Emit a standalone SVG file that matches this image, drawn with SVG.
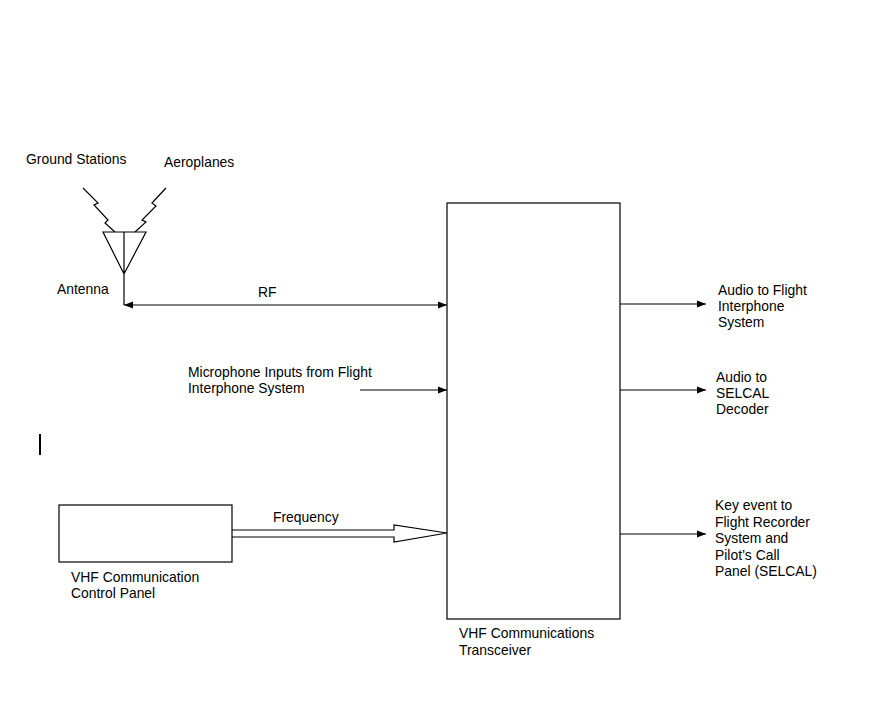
<svg xmlns="http://www.w3.org/2000/svg" width="892" height="703" viewBox="0 0 892 703">
<defs>
<style>
text{font-family:"Liberation Sans",Arial,sans-serif;font-size:13.9px;fill:#000}
.l{stroke:#000;stroke-width:1.2;fill:none}
</style>
<marker id="a" viewBox="0 0 10 10" refX="10" refY="5" markerWidth="9" markerHeight="9" markerUnits="userSpaceOnUse" orient="auto-start-reverse"><path d="M0,1L10,5L0,9z" fill="#000"/></marker>
</defs>
<rect width="892" height="703" fill="#fff"/>
<g id="antenna">
<path class="l" d="M83,188L98,203L94,205L108,220L105,223L115,232"/>
<path class="l" d="M166,188L152,203L156,206L142,220L146,222L135,232"/>
<path class="l" d="M103,232L146,232L124,274Z M124,232V305"/>
<text x="26" y="164">Ground Stations</text>
<text x="164" y="167">Aeroplanes</text>
<text x="57" y="294">Antenna</text>
</g>
<g id="transceiver">
<rect class="l" x="447" y="203" width="173" height="416"/>
<text x="459" y="638">VHF Communications</text>
<text x="459" y="655">Transceiver</text>
</g>
<g id="panel">
<rect class="l" x="59" y="505" width="173" height="57"/>
<text x="71" y="582">VHF Communication</text>
<text x="71" y="598">Control Panel</text>
</g>
<g id="connectors">
<path class="l" d="M124,305H447" marker-start="url(#a)" marker-end="url(#a)"/>
<path class="l" d="M360,390H447" marker-end="url(#a)"/>
<path class="l" d="M232,530H394V525L447,533L394,542V537H232"/>
<path class="l" d="M620,304H706" marker-end="url(#a)"/>
<path class="l" d="M620,390H706" marker-end="url(#a)"/>
<path class="l" d="M620,534H706" marker-end="url(#a)"/>
<path d="M40,434V455" stroke="#000" stroke-width="2"/>
</g>
<g id="labels">
<text x="258" y="297">RF</text>
<text x="188" y="377">Microphone Inputs from Flight</text>
<text x="188" y="393">Interphone System</text>
<text x="273" y="522">Frequency</text>
<text x="718" y="295">Audio to Flight</text>
<text x="718" y="311">Interphone</text>
<text x="718" y="327">System</text>
<text x="716" y="382">Audio to</text>
<text x="716" y="398">SELCAL</text>
<text x="716" y="414">Decoder</text>
<text x="715" y="510">Key event to</text>
<text x="715" y="527">Flight Recorder</text>
<text x="715" y="543">System and</text>
<text x="715" y="560">Pilot’s Call</text>
<text x="715" y="576">Panel (SELCAL)</text>
</g>
</svg>
